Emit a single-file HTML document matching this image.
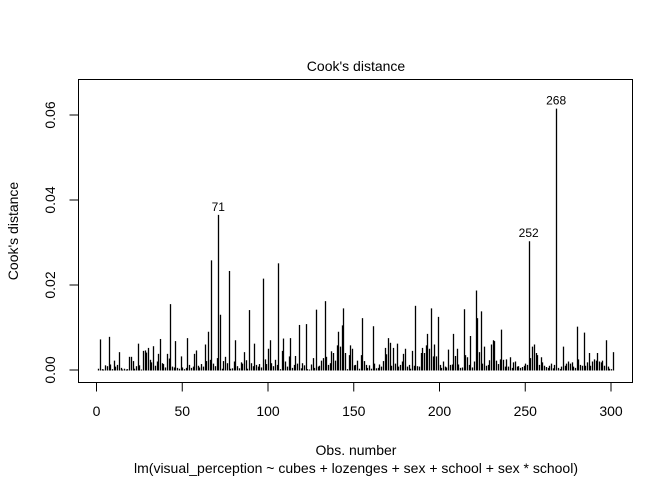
<!DOCTYPE html>
<html><head><meta charset="utf-8"><style>
html,body{margin:0;padding:0;background:#fff;}
svg{display:block;font-family:"Liberation Sans",Arial,sans-serif;}
</style></head><body>
<svg id="chart" width="672" height="480" viewBox="0 0 672 480" xmlns="http://www.w3.org/2000/svg">
<rect x="0" y="0" width="672" height="480" fill="#fff"/>
<text x="356" y="71" font-size="14" text-anchor="middle">Cook's distance</text>
<text x="356" y="455" font-size="14" text-anchor="middle">Obs. number</text>
<text x="356" y="473" font-size="14" text-anchor="middle">lm(visual_perception ~ cubes + lozenges + sex + school + sex * school)</text>
<text transform="translate(18,231) rotate(-90)" font-size="14" text-anchor="middle">Cook's distance</text>
<g id="ticks"></g>
<g id="bars"></g>
<g id="labels"></g>
<rect x="78.5" y="79.5" width="554" height="303" fill="none" stroke="#000" stroke-width="1"/>
</svg>
<script>
const cooks = [
0.0003,0.0072,0.0002,0.0001,0.0011,0.0009,0.0078,0.0013,0.0002,0.0022,
0.0008,0.0012,0.0042,0.0005,0.0001,0.0003,0.0001,0.0002,0.0031,0.0031,
0.0021,0.0003,0.0009,0.0062,0.0011,0.0001,0.0045,0.0046,0.0041,0.0052,
0.0024,0.0018,0.0056,0.0010,0.0020,0.0038,0.0073,0.0016,0.0014,0.0006,
0.0038,0.0027,0.0155,0.0008,0.0006,0.0068,0.0005,0.0003,0.0032,0.0006,
0.0002,0.0005,0.0075,0.0012,0.0005,0.0008,0.0038,0.0046,0.0010,0.0006,
0.0014,0.0008,0.0060,0.0021,0.0090,0.0024,0.0258,0.0015,0.0009,0.0028,
0.0365,0.0130,0.0003,0.0021,0.0031,0.0016,0.0233,0.0003,0.0004,0.0020,
0.0070,0.0009,0.0004,0.0018,0.0015,0.0042,0.0023,0.0003,0.0141,0.0016,
0.0009,0.0062,0.0012,0.0008,0.0014,0.0006,0.0215,0.0025,0.0014,0.0050,
0.0070,0.0016,0.0009,0.0024,0.0012,0.0251,0.0002,0.0045,0.0074,0.0020,
0.0008,0.0032,0.0075,0.0005,0.0012,0.0033,0.0015,0.0106,0.0004,0.0016,
0.0011,0.0108,0.0002,0.0001,0.0013,0.0028,0.0005,0.0142,0.0008,0.0010,
0.0022,0.0028,0.0162,0.0031,0.0012,0.0016,0.0044,0.0040,0.0022,0.0058,
0.0090,0.0055,0.0105,0.0145,0.0040,0.0002,0.0035,0.0058,0.0050,0.0011,
0.0012,0.0022,0.0003,0.0035,0.0122,0.0021,0.0012,0.0005,0.0011,0.0003,
0.0103,0.0015,0.0004,0.0005,0.0013,0.0008,0.0021,0.0052,0.0037,0.0075,
0.0064,0.0010,0.0052,0.0015,0.0062,0.0008,0.0012,0.0020,0.0038,0.0050,
0.0008,0.0012,0.0003,0.0045,0.0010,0.0151,0.0009,0.0008,0.0040,0.0052,
0.0040,0.0058,0.0085,0.0050,0.0145,0.0032,0.0060,0.0032,0.0125,0.0012,
0.0005,0.0020,0.0008,0.0006,0.0048,0.0012,0.0013,0.0085,0.0033,0.0050,
0.0013,0.0005,0.0006,0.0143,0.0035,0.0030,0.0012,0.0080,0.0006,0.0020,
0.0187,0.0122,0.0042,0.0138,0.0015,0.0055,0.0010,0.0012,0.0023,0.0060,
0.0070,0.0068,0.0022,0.0014,0.0025,0.0095,0.0024,0.0008,0.0025,0.0008,
0.0030,0.0005,0.0018,0.0020,0.0008,0.0009,0.0005,0.0007,0.0010,0.0015,
0.0012,0.0303,0.0028,0.0055,0.0060,0.0040,0.0035,0.0012,0.0030,0.0018,
0.0010,0.0007,0.0005,0.0010,0.0015,0.0004,0.0012,0.0615,0.0005,0.0002,
0.0008,0.0055,0.0010,0.0015,0.0020,0.0015,0.0018,0.0008,0.0005,0.0102,
0.0025,0.0012,0.0010,0.0088,0.0010,0.0018,0.0040,0.0010,0.0020,0.0025,
0.0022,0.0040,0.0020,0.0018,0.0022,0.0010,0.0070,0.0008,0.0003,0.0002,
0.0042];
const xTicks = [0,50,100,150,200,250,300];
const yTicks = [0.00,0.02,0.04,0.06];
const yTickLabels = ["0.00","0.02","0.04","0.06"];
const labelledObs = [71,252,268];

const NS = "http://www.w3.org/2000/svg";
const xs = i => 96.5 + (611 - 96.5) * i / 300;
const ys = v => 370 - (370 - 115) * v / 0.06;
function mk(tag, attrs, parent, txt) {
  const e = document.createElementNS(NS, tag);
  for (const k in attrs) e.setAttribute(k, attrs[k]);
  if (txt !== undefined) e.textContent = txt;
  parent.appendChild(e);
  return e;
}
const gT = document.getElementById('ticks');
const gB = document.getElementById('bars');
const gL = document.getElementById('labels');

mk('line', {x1: xs(xTicks[0]), x2: xs(xTicks[xTicks.length-1]), y1: 382.5, y2: 382.5, stroke: '#000'}, gT);
xTicks.forEach(t => {
  const l = mk('line', {x1: xs(t), x2: xs(t), y1: 382.5, y2: 391.5, stroke: '#000'}, gT);
  
  
  const tx = mk('text', {x: xs(t), y: 416, 'font-size': 14, 'text-anchor': 'middle'}, gT, String(t));
  
  
});
mk('line', {x1: 78.5, x2: 78.5, y1: ys(yTicks[0]), y2: ys(yTicks[yTicks.length-1]), stroke: '#000'}, gT);
yTicks.forEach((t, k) => {
  const l = mk('line', {x1: 69.5, x2: 78.5, y1: ys(t), y2: ys(t), stroke: '#000'}, gT);
  
  
  const tx = mk('text', {transform: `translate(55,${ys(t)}) rotate(-90)`, 'font-size': 14, 'text-anchor': 'middle'}, gT, yTickLabels[k]);
  
  
});
cooks.forEach((v, i) => {
  const x = Math.round(xs(i + 1)) + 0.5;
  const top = Math.min(ys(v), 369.5);
  const b = mk('line', {x1: x, x2: x, y1: 370.5, y2: top, stroke: '#000', 'stroke-width': 1.3}, gB);
  
  
});
labelledObs.forEach(o => {
  const t = mk('text', {x: xs(o), y: ys(cooks[o - 1]) - 4, 'font-size': 12, 'text-anchor': 'middle'}, gL, String(o));
  
  
});
</script>
</body></html>
